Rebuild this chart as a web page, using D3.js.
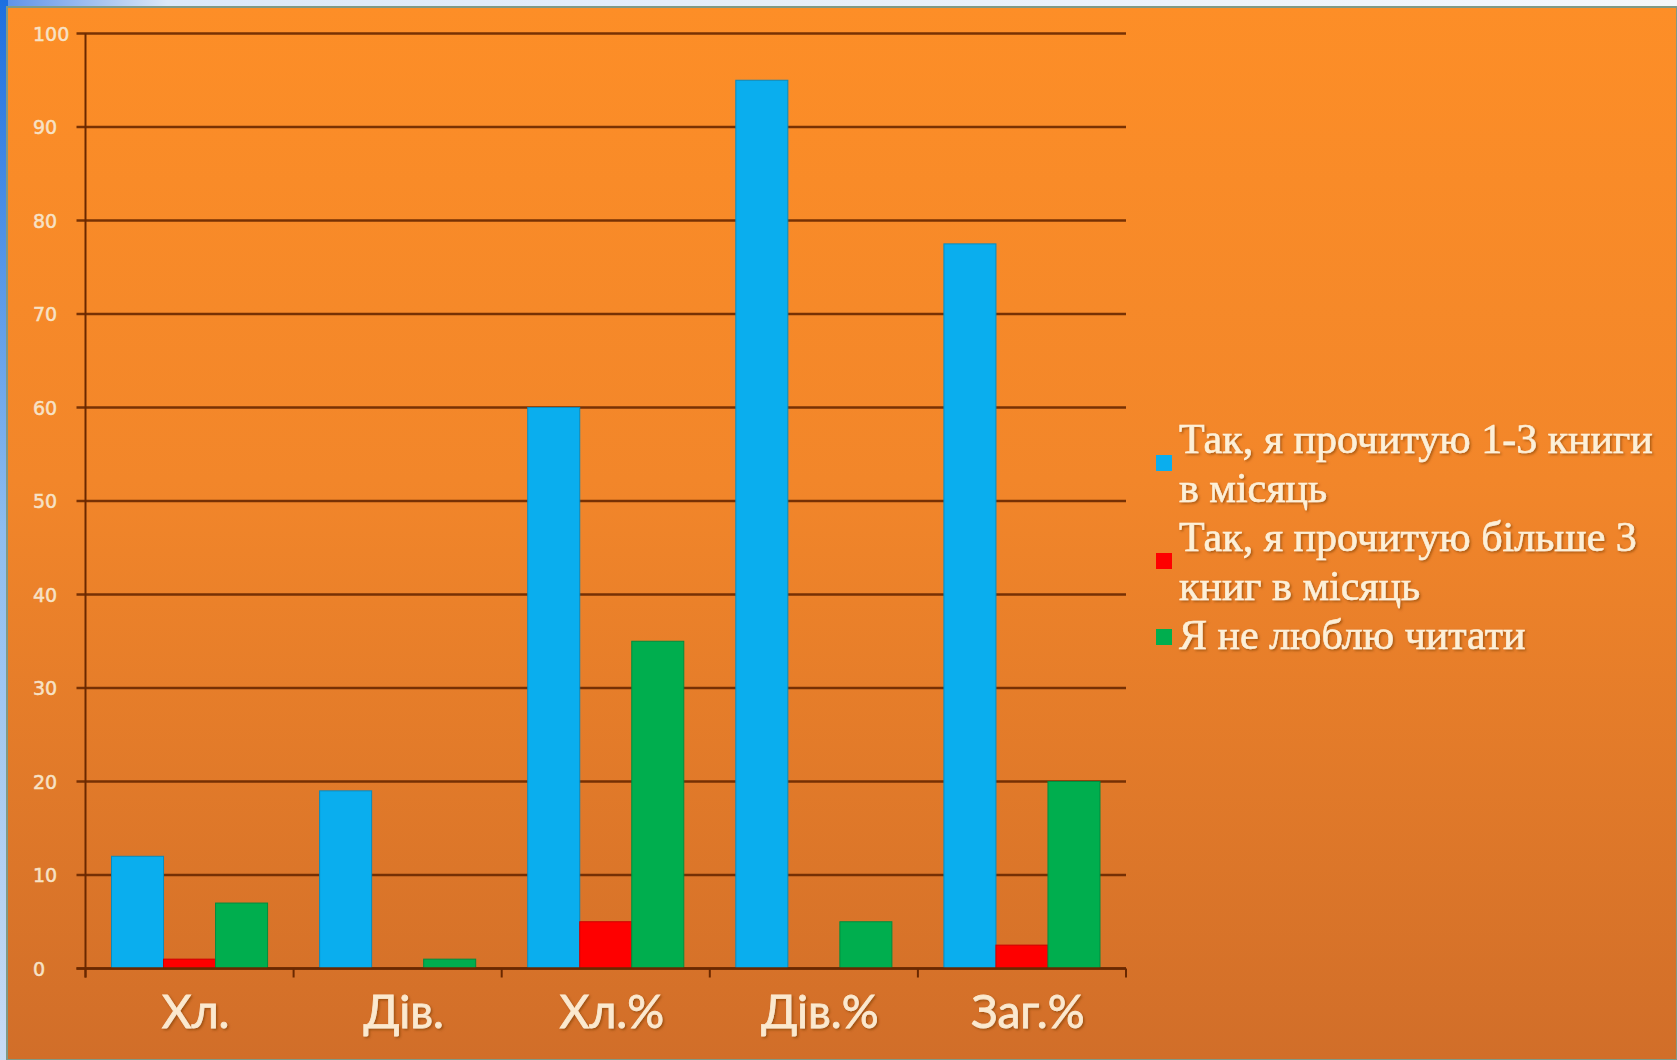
<!DOCTYPE html>
<html><head><meta charset="utf-8">
<script src="https://cdn.jsdelivr.net/npm/d3@7"></script>
<style>html,body{margin:0;padding:0;overflow:hidden;background:#fff}</style>
</head><body>
<svg id="c" width="1677" height="1060"></svg>
<script>
const categories = ["Хл.", "Дів.", "Хл.%", "Дів.%", "Заг.%"];
const seriesNames = ["Так, я прочитую 1-3 книги в місяць", "Так, я прочитую більше 3 книг в місяць", "Я не люблю читати"];
const legendLines = [["Так, я прочитую 1-3 книги", "в місяць"], ["Так, я прочитую більше 3", "книг в місяць"], ["Я не люблю читати"]];
const seriesColors = ["#0aaeee", "#fe0000", "#00ae4e"];
const read13 = [12, 19, 60, 95, 77.5];
const readMore3 = [1, 0, 5, 0, 2.5];
const dontRead = [7, 1, 35, 5, 20];
const yTicks = [0, 10, 20, 30, 40, 50, 60, 70, 80, 90, 100];

const series = [read13, readMore3, dontRead];
const svg = d3.select("#c");
const W = 1677, H = 1060;

// background
const defs = svg.append("defs");
const lg = defs.append("linearGradient").attr("id", "bg").attr("x1", 0).attr("y1", 0).attr("x2", 0).attr("y2", 1);
lg.append("stop").attr("offset", "0").attr("stop-color", "#fd8e27");
lg.append("stop").attr("offset", "0.45").attr("stop-color", "#f2862a");
lg.append("stop").attr("offset", "1").attr("stop-color", "#d16e29");
const lb = defs.append("linearGradient").attr("id", "side").attr("x1", 0).attr("y1", 0).attr("x2", 0).attr("y2", 1);
lb.append("stop").attr("offset", "0").attr("stop-color", "#1d6fe0");
lb.append("stop").attr("offset", "0.5").attr("stop-color", "#8fbdf0");
lb.append("stop").attr("offset", "1").attr("stop-color", "#c9dcf3");
const tb = defs.append("linearGradient").attr("id", "top").attr("x1", 0).attr("y1", 0).attr("x2", 1).attr("y2", 0);
tb.append("stop").attr("offset", "0").attr("stop-color", "#5a8fe8");
tb.append("stop").attr("offset", "0.1").attr("stop-color", "#dce8f8");
tb.append("stop").attr("offset", "1").attr("stop-color", "#f4f7fb");
const f = defs.append("filter").attr("id", "sh").attr("x", "-5%").attr("y", "-20%").attr("width", "110%").attr("height", "140%");
f.append("feDropShadow").attr("dx", 1.5).attr("dy", 1.5).attr("stdDeviation", 1.2).attr("flood-color", "#7a3a00").attr("flood-opacity", 0.6);

svg.append("rect").attr("width", W).attr("height", H).attr("fill", "url(#top)");
svg.append("rect").attr("x", 0).attr("y", 0).attr("width", 8).attr("height", H).attr("fill", "url(#side)");
svg.append("rect").attr("x", 7).attr("y", 7).attr("width", W - 7).attr("height", H - 7).attr("fill", "url(#bg)")
  .attr("stroke", "#7f9a86").attr("stroke-width", 2);

const x0 = 85.5, x1 = 1126, yTop = 33.5, yBot = 968.5;
const x = d3.scaleBand().domain(categories).range([x0, x1]).paddingInner(0.25).paddingOuter(0.125);
const xs = d3.scaleBand().domain(d3.range(series.length)).range([0, x.bandwidth()]);
const y = d3.scaleLinear().domain([0, 100]).range([yBot, yTop]);

const gridColor = "#6a2800";
// gridlines
svg.append("g").selectAll("line").data(yTicks).join("line")
  .attr("x1", x0 - 9).attr("x2", x1).attr("y1", d => y(d)).attr("y2", d => y(d))
  .attr("stroke", gridColor).attr("stroke-width", 2.4).attr("opacity", 0.9);

// y axis line
svg.append("line").attr("x1", x0).attr("x2", x0).attr("y1", yTop).attr("y2", yBot + 9)
  .attr("stroke", gridColor).attr("stroke-width", 2);

// y labels (left aligned)
svg.append("g").selectAll("text").data(yTicks).join("text")
  .attr("x", 33).attr("y", d => y(d) + 7)
  .attr("font-family", "DejaVu Sans").attr("font-size", 19)
  .attr("fill", "#f7e2c6").attr("stroke", "#f7e2c6").attr("stroke-width", 0.5).text(d => d);

// x tick marks at category boundaries
const bounds = categories.map(c => x(c) - x.step() * x.paddingInner() / 2).concat([x1]);
bounds[0] = x0;
svg.append("g").selectAll("line").data(bounds).join("line")
  .attr("x1", d => d).attr("x2", d => d).attr("y1", yBot).attr("y2", yBot + 9)
  .attr("stroke", gridColor).attr("stroke-width", 2);

// bars
const bars = svg.append("g");
series.forEach((vals, si) => {
  bars.append("g").selectAll("rect").data(vals).join("rect")
    .attr("x", (d, i) => x(categories[i]) + xs(si))
    .attr("y", d => y(d))
    .attr("width", xs.bandwidth())
    .attr("height", d => yBot - y(d))
    .attr("fill", seriesColors[si])
    .attr("stroke", d3.color(seriesColors[si]).darker(0.6))
    .attr("stroke-width", d => d > 0 ? 1 : 0);
});

// x axis baseline over bars
svg.append("line").attr("x1", x0 - 9).attr("x2", x1).attr("y1", yBot).attr("y2", yBot)
  .attr("stroke", gridColor).attr("stroke-width", 2.4);

// category labels
svg.append("g").selectAll("text").data(categories).join("text")
  .attr("x", d => x(d) + x.bandwidth() / 2 + 6).attr("y", 1028)
  .attr("text-anchor", "middle")
  .attr("font-family", "Lato").attr("font-size", 46)
  .attr("fill", "#fbe9cf").attr("stroke", "#fbe9cf").attr("stroke-width", 0.8)
  .attr("filter", "url(#sh)").text(d => d);

// legend
const legY = [463, 561, 637];
const lineY = [[453, 502], [551, 600], [649]];
const leg = svg.append("g");
seriesNames.forEach((name, i) => {
  leg.append("rect").attr("x", 1156).attr("y", legY[i] - 8).attr("width", 16).attr("height", 16)
    .attr("fill", seriesColors[i]);
  const t = leg.append("text").attr("font-family", "Liberation Serif").attr("font-size", 42)
    .attr("fill", "#fdf0d8").attr("stroke", "#fdf0d8").attr("stroke-width", 0.6)
    .attr("filter", "url(#sh)");
  legendLines[i].forEach((ln, j) => {
    t.append("tspan").attr("x", 1179).attr("y", lineY[i][j]).text(ln);
  });
});
</script>
</body></html>
